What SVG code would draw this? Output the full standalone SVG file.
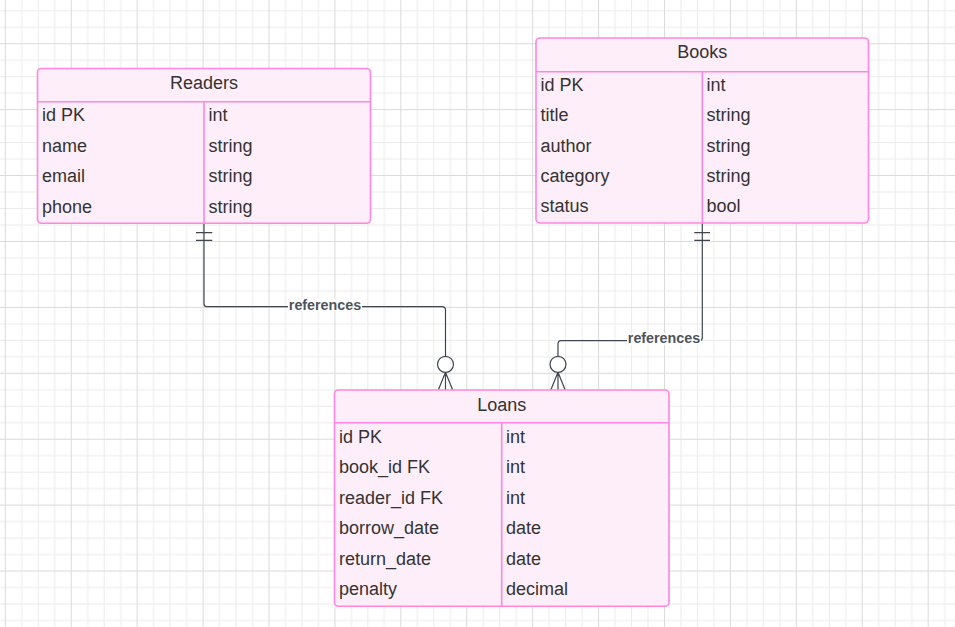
<svg xmlns="http://www.w3.org/2000/svg" width="955" height="627" viewBox="0 0 955 627">
<style>
.tbl{fill:#feeef9;stroke:#ff85de;stroke-width:1.6}
.sep{stroke:#ff85de;stroke-width:1.6;fill:none}
.t{font-family:"Liberation Sans",Arial,sans-serif;font-size:18px;fill:#333333}
.h{text-anchor:middle}
.ln{fill:none;stroke:#3f464f;stroke-width:1.2}
.lbl{font-family:"Liberation Sans",Arial,sans-serif;font-size:14.3px;font-weight:bold;fill:#4d535b;text-anchor:middle}
</style>
<defs>
<pattern id="grid" patternUnits="userSpaceOnUse" x="4.8" y="43.2" width="65.92" height="65.92">
<path d="M16.98 0V65.92M33.46 0V65.92M49.94 0V65.92M0 16.98H65.92M0 33.46H65.92M0 49.94H65.92" stroke="#ebebeb" stroke-width="1" fill="none"/>
<path d="M0.5 0V65.92M0 0.5H65.92" stroke="#dadada" stroke-width="1" fill="none"/>
</pattern>
</defs>
<rect width="955" height="627" fill="#ffffff"/>
<rect width="955" height="627" fill="url(#grid)"/>

<g id="connectors">
<path class="ln" d="M204 223V303.7Q204 306.7 207 306.7H442Q445.5 306.7 445.5 310V356.3"/>
<path class="ln" d="M196 232.7H212.3M196 240.3H212.3"/>
<circle class="ln" cx="445.5" cy="364.3" r="8"/>
<path class="ln" d="M445.5 372.3V390M445.5 372.3L438.3 390M445.5 372.3L452.7 390"/>
<rect x="288" y="299" width="74" height="12" fill="#ffffff"/>
<text class="lbl" x="325" y="310">references</text>

<path class="ln" d="M702.3 223V337.7Q702.3 340.7 699.3 340.7H561.3Q558 340.7 558 344V356.3"/>
<path class="ln" d="M694.3 232.7H710M694.3 240.3H710"/>
<circle class="ln" cx="558" cy="364.3" r="8"/>
<path class="ln" d="M558 372.3V390M558 372.3L550.8 390M558 372.3L565.2 390"/>
<rect x="627" y="333" width="74" height="12" fill="#ffffff"/>
<text class="lbl" x="664" y="343.3">references</text>
</g>

<g id="readers">
<rect class="tbl" x="37.5" y="68.5" width="333" height="154.8" rx="4"/>
<path class="sep" d="M37.5 101.7H370.5M204 101.7V223.3"/>
<text class="t h" x="204" y="89">Readers</text>
<text class="t" x="42" y="121">id PK</text><text class="t" x="208.5" y="121">int</text>
<text class="t" x="42" y="151.5">name</text><text class="t" x="208.5" y="151.5">string</text>
<text class="t" x="42" y="182">email</text><text class="t" x="208.5" y="182">string</text>
<text class="t" x="42" y="212.5">phone</text><text class="t" x="208.5" y="212.5">string</text>
</g>

<g id="books">
<rect class="tbl" x="536" y="38" width="332.5" height="185" rx="4"/>
<path class="sep" d="M536 71.7H868.5M702.3 71.7V223"/>
<text class="t h" x="702.3" y="58">Books</text>
<text class="t" x="540.5" y="91">id PK</text><text class="t" x="706.5" y="91">int</text>
<text class="t" x="540.5" y="121.3">title</text><text class="t" x="706.5" y="121.3">string</text>
<text class="t" x="540.5" y="151.6">author</text><text class="t" x="706.5" y="151.6">string</text>
<text class="t" x="540.5" y="181.9">category</text><text class="t" x="706.5" y="181.9">string</text>
<text class="t" x="540.5" y="212.2">status</text><text class="t" x="706.5" y="212.2">bool</text>
</g>

<g id="loans">
<rect class="tbl" x="334.5" y="390" width="334.5" height="216.3" rx="4"/>
<path class="sep" d="M334.5 422.7H669M501.7 422.7V606.3"/>
<text class="t h" x="501.7" y="411">Loans</text>
<text class="t" x="339" y="442.5">id PK</text><text class="t" x="506" y="442.5">int</text>
<text class="t" x="339" y="473">book_id FK</text><text class="t" x="506" y="473">int</text>
<text class="t" x="339" y="503.6">reader_id FK</text><text class="t" x="506" y="503.6">int</text>
<text class="t" x="339" y="534.2">borrow_date</text><text class="t" x="506" y="534.2">date</text>
<text class="t" x="339" y="564.8">return_date</text><text class="t" x="506" y="564.8">date</text>
<text class="t" x="339" y="595.4">penalty</text><text class="t" x="506" y="595.4">decimal</text>
</g>
</svg>
